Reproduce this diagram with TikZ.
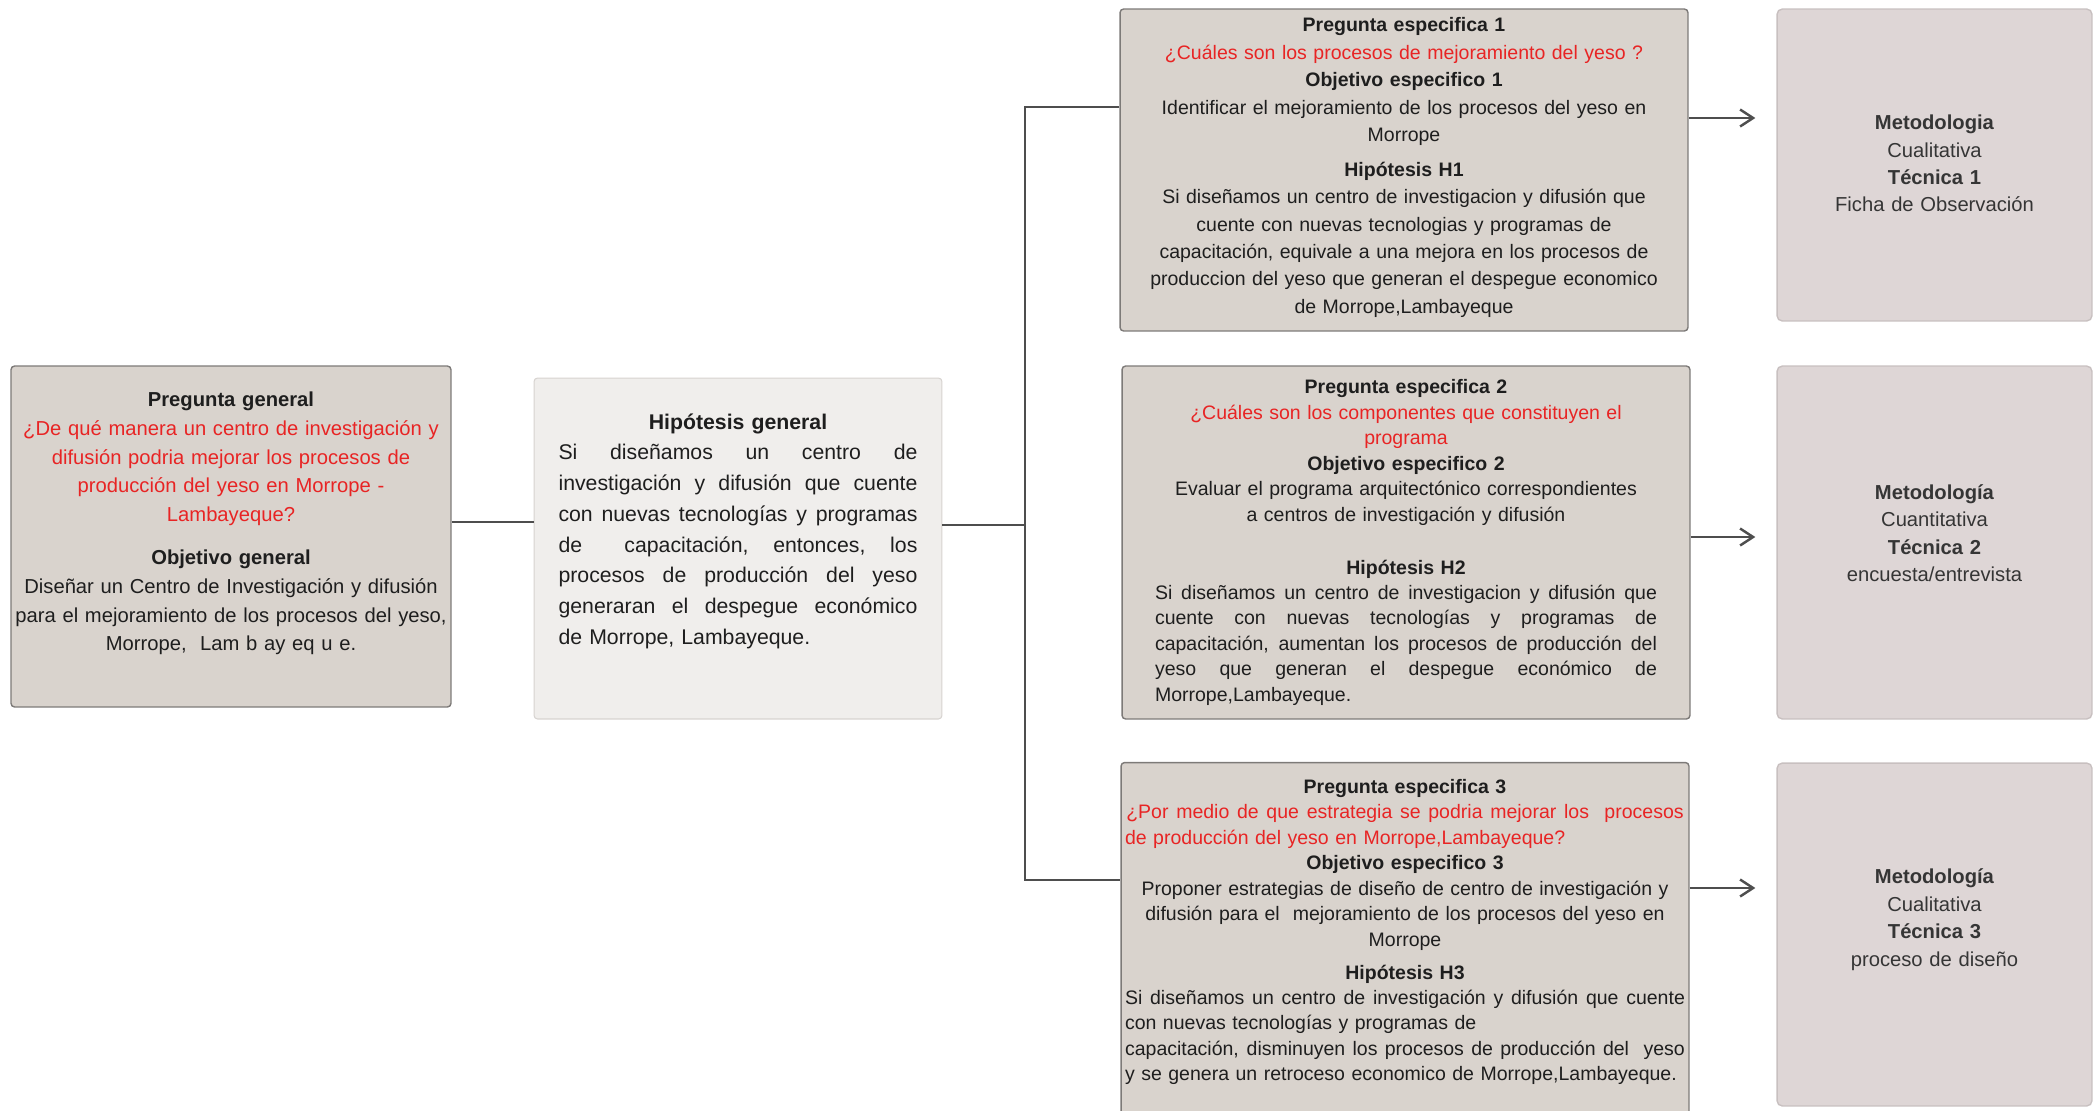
\documentclass[tikz,border=0pt]{standalone}
\usepackage{fontspec}
\setmainfont{Liberation Sans}
\usetikzlibrary{arrows.meta, positioning}

\definecolor{boxgray}{RGB}{217,211,205}
\definecolor{boxlight}{RGB}{240,238,236}
\definecolor{boxpink}{RGB}{222,214,214}
\definecolor{edgegray}{RGB}{125,122,120}
\definecolor{edgelight}{RGB}{215,211,208}
\definecolor{edgepink}{RGB}{200,192,192}
\definecolor{linegray}{RGB}{78,78,78}
\definecolor{qred}{RGB}{232,36,36}
\definecolor{txt}{RGB}{30,30,30}

\newcommand{\jline}[2]{\makebox[#1][s]{\spaceskip=0.28em plus 1fil\relax #2}}
\newcommand{\lline}[2]{\makebox[#1][l]{#2}}
\newcommand{\dstrut}[1]{\rule[-#1]{0pt}{#1}}

\begin{document}
\begin{tikzpicture}[
    x=0.02cm, y=-0.02cm,
    genbox/.style  = {rectangle, rounded corners=2pt, draw=edgegray, line width=0.8pt,
                      fill=boxgray, text=txt, align=center, inner sep=0pt,
                      font=\fontsize{11.5pt}{16.3pt}\selectfont},
    hipbox/.style  = {rectangle, rounded corners=2pt, draw=edgelight, line width=0.6pt,
                      fill=boxlight, text=txt, align=center, inner sep=0pt,
                      font=\fontsize{12.1pt}{17.5pt}\selectfont},
    espbox/.style  = {rectangle, rounded corners=2pt, draw=edgegray, line width=0.8pt,
                      fill=boxgray, text=txt, align=center, inner sep=0pt,
                      text width=11.2cm, minimum width=11.36cm},
    metbox/.style  = {rectangle, rounded corners=3pt, draw=edgepink, line width=0.8pt,
                      fill=boxpink, text=txt!90, align=center, inner sep=0pt,
                      text width=6cm, minimum width=6.3cm,
                      font=\fontsize{11.5pt}{15.6pt}\selectfont},
    link/.style    = {draw=linegray, line width=1.4pt},
    arrow/.style   = {draw=linegray, line width=1.4pt,
                      -{Straight Barb[length=0.26cm, width=0.34cm, line width=1.4pt]},
                      shorten >=0.42cm},
]

\useasboundingbox (0,0) rectangle (2100,1110);

% pregunta / objetivo general
\node[genbox, text width=8.6cm, minimum width=8.8cm, minimum height=6.82cm]
    (pgen) at (231,536.5) {%
    \textbf{Pregunta general}\\
    {\color{qred}¿De qué manera un centro de investigación y\\
    difusión podria mejorar los procesos de\\
    producción del yeso en Morrope -\\
    Lambayeque?}\\[0.3cm]
    \textbf{Objetivo general}\\
    Diseñar un Centro de Investigación y difusión\\
    \makebox[8.6cm]{para el mejoramiento de los procesos del yeso,}\\
    Morrope,\ \ Lam b ay eq u e.\dstrut{0.6cm}};

% hipotesis general
\node[hipbox, text width=7.18cm, minimum width=8.16cm, minimum height=6.82cm]
    (hgen) at (738,548.5) {%
    \textbf{Hipótesis general}\\
    \jline{7.18cm}{Si diseñamos un centro de}\\
    \jline{7.18cm}{investigación y difusión que cuente}\\
    \jline{7.18cm}{con nuevas tecnologías y programas}\\
    \jline{7.18cm}{de \quad capacitación, entonces, los}\\
    \jline{7.18cm}{procesos de producción del yeso}\\
    \jline{7.18cm}{generaran el despegue económico}\\
    \lline{7.18cm}{de Morrope, Lambayeque.}\dstrut{0.78cm}};

% especificos
\node[espbox, minimum height=6.44cm, font=\fontsize{11.1pt}{15.6pt}\selectfont]
    (esp1) at (1404,170) {%
    \textbf{Pregunta especifica 1}\\
    {\color{qred}¿Cuáles son los procesos de mejoramiento del yeso ?}\\
    \textbf{Objetivo especifico 1}\\
    Identificar el mejoramiento de los procesos del yeso en\\
    Morrope\\[0.15cm]
    \textbf{Hipótesis H1}\\
    Si diseñamos un centro de investigacion y difusión que\\
    cuente con nuevas tecnologias y programas de\\
    capacitación, equivale a una mejora en los procesos de\\
    produccion del yeso que generan el despegue economico\\
    de Morrope,Lambayeque\dstrut{0.18cm}};

\node[espbox, minimum height=7.06cm, font=\fontsize{11.1pt}{14.5pt}\selectfont]
    (esp2) at (1406,542.5) {%
    \textbf{Pregunta especifica 2}\\
    {\color{qred}¿Cuáles son los componentes que constituyen el\\
    programa}\\
    \textbf{Objetivo especifico 2}\\
    Evaluar el programa arquitectónico correspondientes\\
    a centros de investigación y difusión\\[0.55cm]
    \textbf{Hipótesis H2}\\
    \jline{10.04cm}{Si diseñamos un centro de investigacion y difusión que}\\
    \jline{10.04cm}{cuente con nuevas tecnologías y programas de}\\
    \jline{10.04cm}{capacitación, aumentan los procesos de producción del}\\
    \jline{10.04cm}{yeso que generan el despegue económico de}\\
    \lline{10.04cm}{Morrope,Lambayeque.}};

\node[espbox, minimum height=7.1cm, font=\fontsize{11.1pt}{14.5pt}\selectfont]
    (esp3) at (1405,940) {%
    \textbf{Pregunta especifica 3}\\
    {\color{qred}\jline{11.15cm}{¿Por medio de que estrategia se podria mejorar los \ procesos}\\
    \lline{11.2cm}{de producción del yeso en Morrope,Lambayeque?}}\\
    \textbf{Objetivo especifico 3}\\
    Proponer estrategias de diseño de centro de investigación y\\
    difusión para el \ mejoramiento de los procesos del yeso en\\
    Morrope\\[0.15cm]
    \textbf{Hipótesis H3}\\
    \jline{11.2cm}{Si diseñamos un centro de investigación y difusión que cuente}\\
    \lline{11.2cm}{con nuevas tecnologías y programas de}\\
    \jline{11.2cm}{capacitación, disminuyen los procesos de producción del \ yeso}\\
    \lline{11.2cm}{y se genera un retroceso economico de Morrope,Lambayeque.}\dstrut{0.4cm}};

% metodologia
\node[metbox, minimum height=6.24cm] (met1) at (1934.5,165) {%
    \textbf{Metodologia}\\ Cualitativa\\ \textbf{Técnica 1}\\ Ficha de Observación\dstrut{0.06cm}};
\node[metbox, minimum height=7.06cm] (met2) at (1934.5,542.5) {%
    \textbf{Metodología}\\ Cuantitativa\\ \textbf{Técnica 2}\\ encuesta/entrevista\dstrut{0.38cm}};
\node[metbox, minimum height=6.86cm] (met3) at (1934.5,934.5) {%
    \textbf{Metodología}\\ Cualitativa\\ \textbf{Técnica 3}\\ proceso de diseño\dstrut{0.68cm}};

% conectores
\coordinate (lk)   at (490,522);
\coordinate (jn)   at (1025,525);
\coordinate (jtop) at (1025,107);
\coordinate (jbot) at (1025,880);
\coordinate (a1)   at (1720,118);
\coordinate (a2)   at (1720,537);
\coordinate (a3)   at (1720,888);

\draw[link] (pgen.east |- lk) -- (hgen.west |- lk);
\draw[link] (hgen.east |- jn) -- (jn);
\draw[link] (esp1.west |- jtop) -- (jtop) -- (jbot) -- (esp3.west |- jbot);

\draw[arrow] (esp1.east |- a1) -- (met1.west |- a1);
\draw[arrow] (esp2.east |- a2) -- (met2.west |- a2);
\draw[arrow] (esp3.east |- a3) -- (met3.west |- a3);

\end{tikzpicture}
\end{document}
